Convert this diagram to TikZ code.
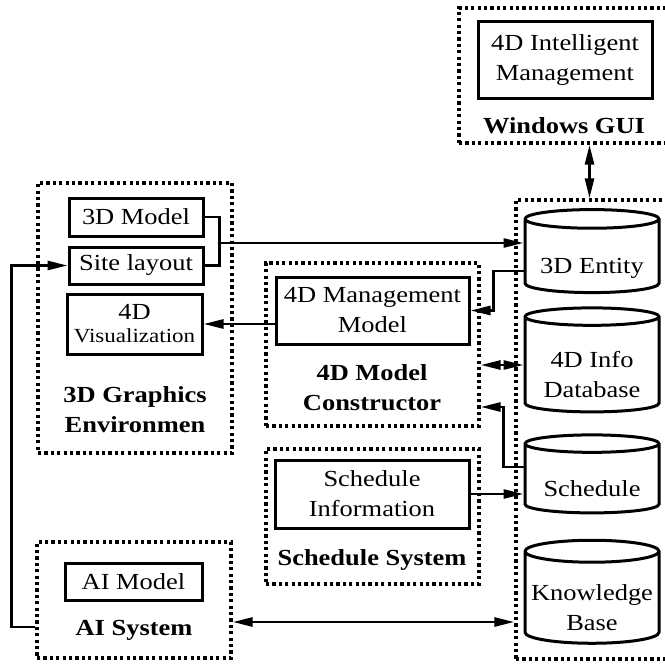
\documentclass[tikz,border=0pt]{standalone}
\usepackage{fontspec}
\setmainfont{Liberation Serif}[FakeStretch=1.15]
\usetikzlibrary{shapes,shapes.geometric,arrows.meta}

\newcommand{\dblabel}[1]{\raisebox{-11pt}[\height][\depth]{\begin{tabular}{@{}c@{}}#1\end{tabular}}}

\begin{document}
\begin{tikzpicture}[x=1pt, y=-1pt,
    every node/.style={font=\fontsize{23}{30}\selectfont, align=center, inner sep=0pt},
    sysbox/.style={draw, line width=3.4pt, dash pattern=on 3.2pt off 3.2pt},
    partbox/.style={draw, line width=3pt},
    dbcyl/.style={draw, line width=3pt, shape=cylinder, shape border rotate=90,
      aspect=0.18, minimum width=134pt},
    syslabel/.style={font=\fontsize{23}{30}\selectfont\bfseries},
    >={Triangle[length=20pt, width=9pt]}, line width=2.8pt]
    \useasboundingbox (0,0) rectangle (664,666);

    % system boxes
    \node [sysbox, minimum width=209pt, minimum height=135pt] (gui) at (563.5,75.5) {};
    \node [sysbox, minimum width=194pt, minimum height=270pt] (graph3d) at (135,318) {};
    \node [sysbox, minimum width=213pt, minimum height=163pt] (cons) at (372.5,344.5) {};
    \node [sysbox, minimum width=213pt, minimum height=135pt] (schsys) at (372.5,516.5) {};
    \node [sysbox, minimum width=194pt, minimum height=116pt] (aisys) at (134,600) {};
    \node [sysbox, minimum width=154pt, minimum height=459pt] (dbsys) at (593,429.5) {};

    \node [syslabel] (guilbl) at (564,126) {Windows GUI};
    \node [syslabel] (graph3dlbl) at (135,410) {3D Graphics\\Environmen};
    \node [syslabel] (conslbl) at (372,388) {4D Model\\Constructor};
    \node [syslabel] (schsyslbl) at (372,560) {Schedule System};
    \node [syslabel] (aisyslbl) at (134,630) {AI System};

    % parts
    \node [partbox, minimum width=174pt, minimum height=77pt] (intel) at (565,60.5) {4D Intelligent\\Management};
    \node [partbox, minimum width=134pt, minimum height=38pt] (model3d) at (136,217) {3D Model};
    \node [partbox, minimum width=134pt, minimum height=37pt] (site) at (136,265.5) {Site layout};
    \node [partbox, minimum width=135pt, minimum height=60pt] (vis) at (134.5,324) {4D\\[-7pt]{\fontsize{20}{24}\selectfont Visualization}};
    \node [partbox, minimum width=193pt, minimum height=67pt] (mgmt) at (372.5,310.5) {4D Management\\Model};
    \node [partbox, minimum width=194pt, minimum height=68pt] (schinfo) at (372,494) {Schedule\\Information};
    \node [partbox, minimum width=137pt, minimum height=37pt] (aimodel) at (133.5,581.5) {AI Model};

    % databases
    \node [dbcyl, minimum height=83pt] (ent3d) at (592,256.5) {\dblabel{3D Entity}};
    \node [dbcyl, minimum height=104pt] (info4d) at (592,365) {\dblabel{4D Info\\Database}};
    \node [dbcyl, minimum height=78pt] (sched) at (592,479) {\dblabel{Schedule}};
    \node [dbcyl, minimum height=103pt] (know) at (592,598) {\dblabel{Knowledge\\Base}};

    \coordinate (brk) at ([xshift=15pt, yshift=-26pt]model3d.east);
    \path ([yshift=-22pt]aisys.east) coordinate (aiarr);
    \path ([xshift=26pt]gui.south) coordinate (guiarr);

    \draw (model3d.east) -- ++(15,0) |- (site.east);
    \draw [->] (brk) -- (brk -| ent3d.west);
    \draw [->] ([yshift=-27pt]aisys.west) -- ++(-24,0) |- (site.west);
    \draw [->] (vis.east -| mgmt.west) -- (vis.east);
    \draw [->] ([yshift=-14.5pt]ent3d.west) -- ++(-30,0) |- (mgmt.east);
    \draw [<->] (info4d.west -| cons.east) -- (info4d.west);
    \draw [->] ([yshift=12pt]sched.west) -- ++(-20,0) |- ([yshift=-62.5pt]cons.east);
    \draw [->] (schinfo.east) -- (schinfo.east -| sched.west);
    \draw [<->] (aiarr) -- (aiarr -| dbsys.west);
    \draw [<->] (guiarr) -- (guiarr |- dbsys.north);
\end{tikzpicture}
\end{document}
